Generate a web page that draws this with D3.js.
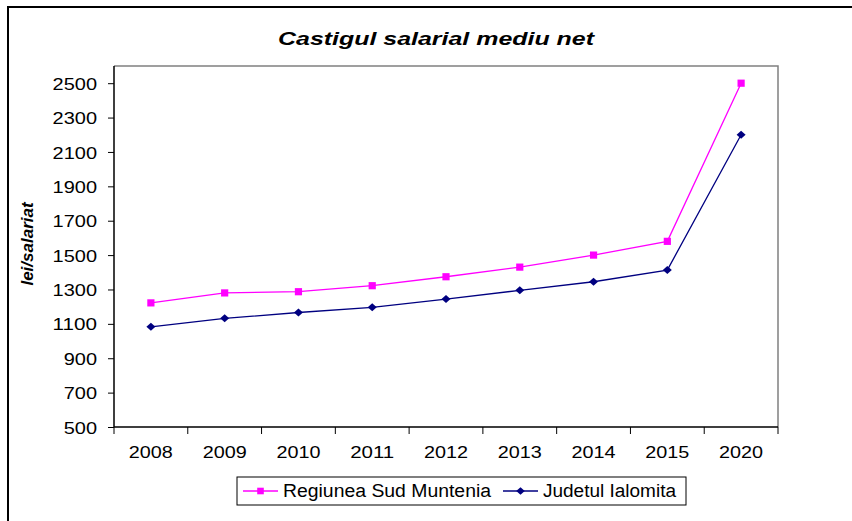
<!DOCTYPE html>
<html>
<head>
<meta charset="utf-8">
<script src="https://cdn.jsdelivr.net/npm/d3@7"></script>
<style>
	body { margin: 0; background: #fff; }
	svg { display: block; font-family: "Liberation Sans", Arial, sans-serif; }
</style>
</head>
<body>
<svg id="chart" width="852" height="521" viewBox="0 0 852 521"></svg>
<script>

const years = ["2008", "2009", "2010", "2011", "2012", "2013", "2014", "2015", "2020"];
const sud_muntenia = [1222, 1280, 1287, 1322, 1374, 1430, 1500, 1580, 2500];
const ialomita = [1083, 1132, 1166, 1196, 1244, 1295, 1345, 1413, 2200];
const y_ticks = [500, 700, 900, 1100, 1300, 1500, 1700, 1900, 2100, 2300, 2500];

const title_text = "Castigul salarial mediu net";
const y_label = "lei/salariat";
const series = [
	{ name: "Regiunea Sud Muntenia", values: sud_muntenia, color: "#ff00ff", marker: "square" },
	{ name: "Judetul Ialomita", values: ialomita, color: "#000080", marker: "diamond" }
];

const svg = d3.select("#chart");

// outer frame (cropped at right/bottom like the picture)
svg.append("rect")
	.attr("x", 8).attr("y", 7)
	.attr("width", 900).attr("height", 600)
	.attr("fill", "none")
	.attr("stroke", "#000")
	.attr("stroke-width", 2);

const plot = { left: 114, right: 778, top: 66, bottom: 427 };

const x = d3.scaleBand()
	.domain(years)
	.range([plot.left, plot.right])
	.padding(0);

const y = d3.scaleLinear()
	.domain([500, 2600])
	.range([plot.bottom, plot.top]);

// plot border: grey top/right, black axes
svg.append("path")
	.attr("d", `M${plot.left},${plot.top}H${plot.right}V${plot.bottom}`)
	.attr("fill", "none")
	.attr("stroke", "#808080")
	.attr("stroke-width", 1.5);

// y axis
const y_axis = d3.axisLeft(y)
	.tickValues(y_ticks)
	.tickSize(6)
	.tickPadding(11)
	.tickFormat(d3.format("d"));

const y_g = svg.append("g")
	.attr("transform", `translate(${plot.left},0)`)
	.call(y_axis);
y_g.select(".domain").remove();
y_g.selectAll(".tick line").attr("stroke", "#000");
y_g.selectAll(".tick text")
	.attr("font-size", 16)
	.attr("fill", "#000")
	.attr("font-family", "Liberation Sans, Arial, sans-serif")
	.attr("dy", "0.38em")
	.attr("textLength", d => String(d).length * 11.1)
	.attr("lengthAdjust", "spacingAndGlyphs");

// x axis: ticks on band boundaries
const x_bounds = years.map(d => x(d)).concat([plot.right]);
svg.append("g").selectAll("line")
	.data(x_bounds)
	.enter().append("line")
	.attr("x1", d => d).attr("x2", d => d)
	.attr("y1", plot.bottom).attr("y2", plot.bottom + 7)
	.attr("stroke", "#000");

svg.append("g").selectAll("text")
	.data(years)
	.enter().append("text")
	.attr("x", d => x(d) + x.bandwidth() / 2)
	.attr("y", 458)
	.attr("text-anchor", "middle")
	.attr("font-size", 16)
	.attr("textLength", 44)
	.attr("lengthAdjust", "spacingAndGlyphs")
	.text(d => d);

// axis lines
svg.append("path")
	.attr("d", `M${plot.left},${plot.top}V${plot.bottom}H${plot.right}`)
	.attr("fill", "none")
	.attr("stroke", "#000")
	.attr("stroke-width", 1.5);

// title
svg.append("text")
	.attr("x", 436)
	.attr("y", 45)
	.attr("text-anchor", "middle")
	.attr("font-size", 18)
	.attr("font-weight", "bold")
	.attr("font-style", "italic")
	.attr("textLength", 316)
	.attr("lengthAdjust", "spacingAndGlyphs")
	.text(title_text);

// y label
svg.append("text")
	.attr("transform", "translate(33,244) rotate(-90)")
	.attr("text-anchor", "middle")
	.attr("font-size", 17)
	.attr("font-weight", "bold")
	.attr("font-style", "italic")
	.text(y_label);

function markerPath(type, cx, cy, r) {
	if (type === "square") {
		return `M${cx - r},${cy - r}h${2 * r}v${2 * r}h${-2 * r}Z`;
	}
	return `M${cx},${cy - r}L${cx + r + 0.5},${cy}L${cx},${cy + r}L${cx - r - 0.5},${cy}Z`;
}

const line_gen = d3.line()
	.x((d, i) => x(years[i]) + x.bandwidth() / 2)
	.y(d => y(d));

series.forEach(s => {
	svg.append("path")
		.datum(s.values)
		.attr("d", line_gen)
		.attr("fill", "none")
		.attr("stroke", s.color)
		.attr("stroke-width", 1.3);

	svg.append("g").selectAll("path")
		.data(s.values)
		.enter().append("path")
		.attr("d", (d, i) => markerPath(s.marker, x(years[i]) + x.bandwidth() / 2, y(d), s.marker === "square" ? 3.6 : 4))
		.attr("fill", s.color);
});

// legend
const legend = svg.append("g");
legend.append("rect")
	.attr("x", 237).attr("y", 477)
	.attr("width", 449).attr("height", 28)
	.attr("fill", "#fff")
	.attr("stroke", "#000")
	.attr("stroke-width", 1);

const legend_items = [
	{ x0: 243, x1: 278, tx: 283, tw: 208 },
	{ x0: 503, x1: 538, tx: 543, tw: 133 }
];

series.forEach((s, i) => {
	const it = legend_items[i];
	legend.append("line")
		.attr("x1", it.x0).attr("x2", it.x1)
		.attr("y1", 491).attr("y2", 491)
		.attr("stroke", s.color)
		.attr("stroke-width", 1.3);
	legend.append("path")
		.attr("d", markerPath(s.marker, (it.x0 + it.x1) / 2, 491, s.marker === "square" ? 3.3 : 3.8))
		.attr("fill", s.color);
	legend.append("text")
		.attr("x", it.tx)
		.attr("y", 497)
		.attr("font-size", 18)
		.attr("textLength", it.tw)
		.attr("lengthAdjust", "spacingAndGlyphs")
		.text(s.name);
});

</script>
</body>
</html>
